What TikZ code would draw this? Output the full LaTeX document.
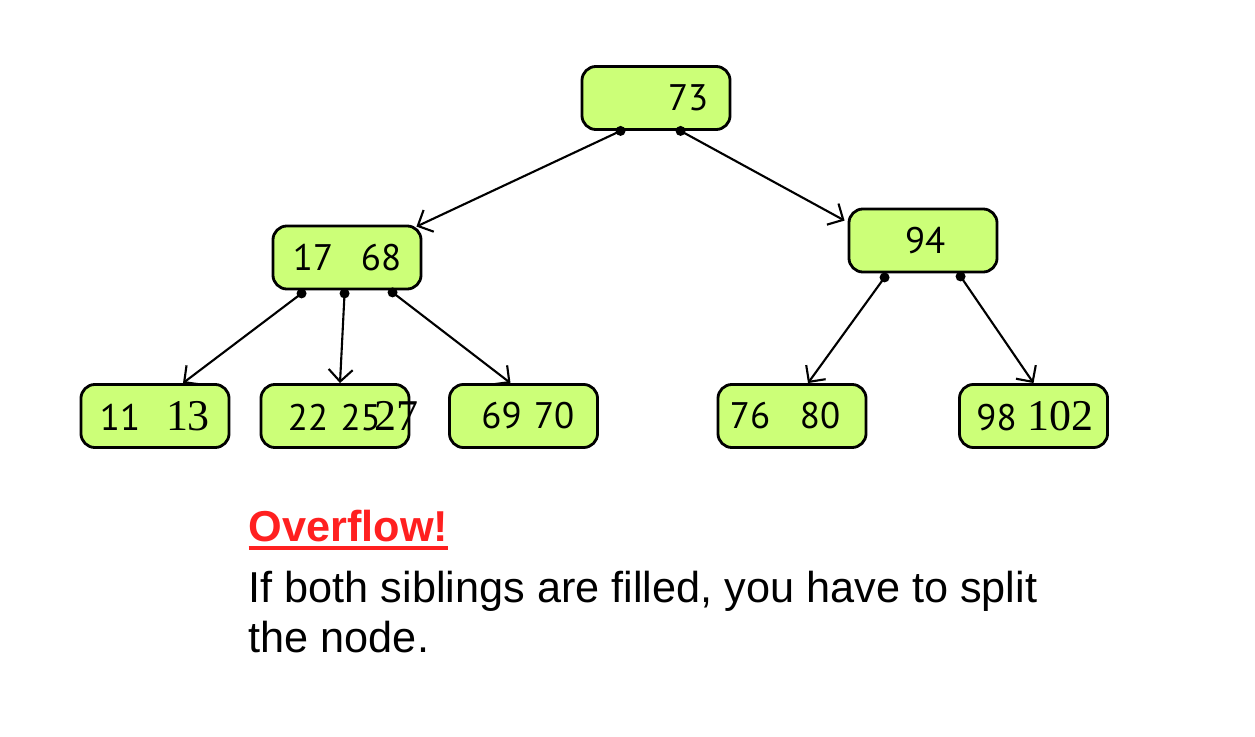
\documentclass[tikz,border=0pt]{standalone}
\usepackage{fontspec}
\setmainfont{Liberation Sans}
\newfontfamily\keyfont{PT Sans}
\newfontfamily\oddfont{Liberation Serif}
\usetikzlibrary{arrows.meta,calc}
\definecolor{keycol}{RGB}{204,255,120}
\definecolor{warncol}{RGB}{255,32,32}
\newcommand{\kat}[2]{\makebox[0pt][l]{\hspace*{#1cm}#2}}
\newcommand{\odd}[1]{{\oddfont\fontsize{12.5pt}{12.5pt}\selectfont #1}}
\newcommand{\thickul}[1]{\setbox0\hbox{#1}\rlap{\rule[-0.2em]{\wd0}{0.09em}}\box0}

\begin{document}
\begin{tikzpicture}[x=0.01cm, y=-0.01cm,
    keybox/.style={draw, line width=0.8pt, fill=keycol, rounded corners=0.14cm,
      minimum width=1.48cm, minimum height=0.63cm, inner sep=0pt,
      text width=1.48cm, align=left, font={\keyfont\fontsize{10.5pt}{10.5pt}\selectfont}},
    dot/.style={circle, fill=black, inner sep=0pt, minimum size=0.1cm},
    ptr/.style={line width=0.6pt, -{Straight Barb[length=1.2mm,width=2.4mm]}},
]
\useasboundingbox (0,0) rectangle (1255,737);

\node[keybox] (root) at (656,98) {\kat{0.86}{73}};
\node[keybox] (n17) at (347,257.5) {\kat{0.20}{17}\kat{0.88}{68}};
\node[keybox] (n94) at (923,240.5) {\kat{0.56}{94}};

\node[keybox] (l11) at (155,416) {\kat{0.19}{11}\kat{0.85}{\odd{13}}};
\node[keybox] (l22) at (335,416) {\kat{0.27}{22 25}\kat{1.13}{\odd{27}}};
\node[keybox] (l69) at (523.5,416) {\kat{0.32}{69 70}};
\node[keybox] (l76) at (792,416) {\kat{0.12}{76}\kat{0.82}{80}};
\node[keybox] (l98) at (1033.5,416) {\kat{0.17}{98}\kat{0.68}{\odd{102}}};

\node[dot] (r1) at ($(root.south west)+(40,0)$) {};
\node[dot] (r2) at ($(root.south west)+(100,0)$) {};
\node[dot] (a1) at ($(n17.south west)+(30,3)$) {};
\node[dot] (a2) at ($(n17.south west)+(73,3)$) {};
\node[dot] (a3) at ($(n17.south west)+(121,2)$) {};
\node[dot] (b1) at ($(n94.south west)+(37,4)$) {};
\node[dot] (b2) at ($(n94.south west)+(113,3)$) {};

\draw[ptr] (r1.center) -- ($(n17.north east)+(-6,2)$);
\draw[ptr] (r2.center) -- ($(n94.north west)+(-3,13)$);
\draw[ptr] (a1.center) -- ($(l11.north)+(28,0)$);
\draw[ptr] (a2.center) -- ($(l22.north)+(5,0)$);
\draw[ptr] (a3.center) -- ($(l69.north)+(-13,0)$);
\draw[ptr] (b1.center) -- ($(l76.north)+(16,0)$);
\draw[ptr] (b2.center) -- (l98.north);

\node[anchor=base west, inner sep=0pt, text=warncol,
  font={\bfseries\fontsize{12.3pt}{14pt}\selectfont}] (warn) at (248,541) {\thickul{Overflow!}};
\node[anchor=base west, inner sep=0pt, align=left,
  font={\fontsize{12.3pt}{14pt}\selectfont}] (note) at (248,652)
  {If both siblings are filled, you have to split\\the node.};
\end{tikzpicture}
\end{document}
